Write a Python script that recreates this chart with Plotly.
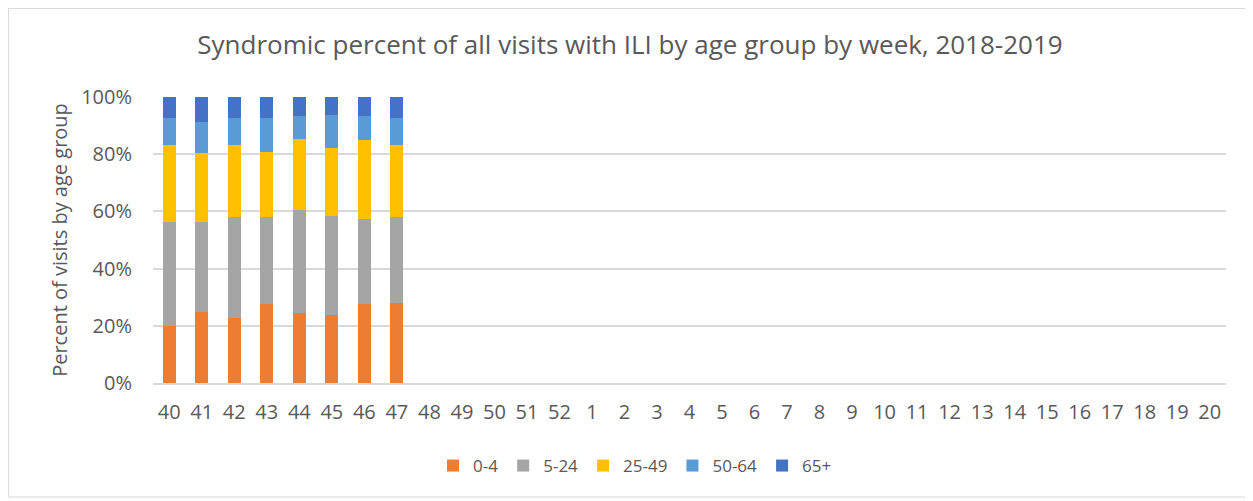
import plotly.graph_objects as go

weeks = [str(w) for w in list(range(40, 53)) + list(range(1, 21))]
age_groups = ["0-4", "5-24", "25-49", "50-64", "65+"]
colors = ["#ED7D31", "#A5A5A5", "#FFC000", "#5B9BD5", "#4472C4"]

pct_0_4   = [20.0, 24.8, 22.8, 27.5, 24.5, 23.7, 27.5, 28.1]
pct_5_24  = [36.2, 31.4, 35.1, 30.4, 36.1, 34.8, 29.9, 29.8]
pct_25_49 = [27.0, 24.2, 25.3, 22.9, 24.7, 23.6, 27.5, 25.3]
pct_50_64 = [9.4, 10.9, 9.4, 11.8, 8.1, 11.7, 8.5, 9.6]
pct_65p   = [7.4, 8.7, 7.4, 7.4, 6.6, 6.2, 6.6, 7.2]

series = [pct_0_4, pct_5_24, pct_25_49, pct_50_64, pct_65p]

fig = go.Figure()
for name, vals, col in zip(age_groups, series, colors):
    y = [v / 100 for v in vals] + [None] * (len(weeks) - len(vals))
    fig.add_trace(go.Bar(x=weeks, y=y, name=name, marker=dict(color=col, line=dict(width=0))))

W, H = 1253, 501
OFF = 8  # page body margin offset
L, R, T, B = 153 - OFF, W - (1226 - OFF), 97 - OFF, H - (383 - OFF)
pw, ph = W - L - R, H - T - B

def px(x):
    return (x - OFF - L) / pw

def py(y):
    return (H - B - (y - OFF)) / ph

fig.update_layout(
    width=W, height=H,
    barmode="stack", bargap=0.6,
    plot_bgcolor="white", paper_bgcolor="white",
    margin=dict(l=L, r=R, t=T, b=B, autoexpand=False),
    font=dict(family="Open Sans", color="#595959", size=19),
    title=dict(text="Syndromic percent of all visits with ILI by age group by week, 2018-2019",
               x=px(630), xanchor="center", xref="paper", y=1 - (45 - OFF) / H, yanchor="middle",
               font=dict(size=26, color="#595959")),
    legend=dict(orientation="h", x=px(635), xanchor="center", y=py(466), yanchor="middle",
                font=dict(size=17, color="#595959"), traceorder="normal"),
    xaxis=dict(type="category", categoryorder="array", categoryarray=weeks,
               showgrid=False, showline=True, linecolor="#d9d9d9", linewidth=1.5, ticks="",
               ticklabelstandoff=10,
               tickfont=dict(size=20, color="#595959")),
    yaxis=dict(range=[0, 1], tickformat=".0%", dtick=0.2, showgrid=True, gridcolor="#d9d9d9",
               gridwidth=1.5,
               zeroline=False, showline=False, ticks="", ticklen=0, ticklabelstandoff=20,
               title=dict(text="Percent of visits by age group", font=dict(size=20, color="#595959"), standoff=8),
               tickfont=dict(size=20, color="#595959")),
    shapes=[dict(type="rect", xref="paper", yref="paper",
                 x0=px(8.5), x1=px(1250), y0=py(497), y1=py(8.5),
                 line=dict(color="#d9d9d9", width=1), fillcolor="rgba(0,0,0,0)", layer="below")],
)

fig.write_html("out.html")
